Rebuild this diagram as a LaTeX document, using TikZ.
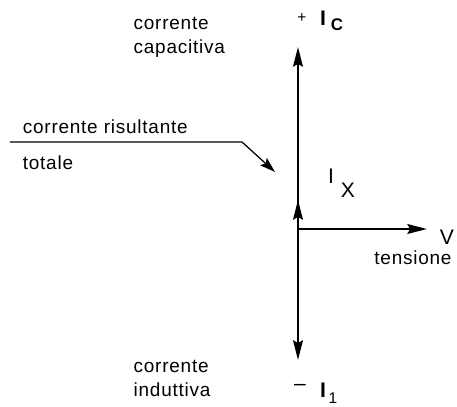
\documentclass[tikz,border=0pt]{standalone}
\usepackage{fontspec}
\setmainfont{Liberation Sans}[LetterSpace=4]
\usetikzlibrary{arrows.meta}
\tikzset{
  % vettori
  vecline/.style = {line width=1.4pt, -{Stealth[length=14pt,width=7pt,inset=2pt]}},
  pointer/.style = {line width=0.9pt, -{Stealth[length=11pt,width=7pt,inset=2pt]}},
  % etichette
  lab/.style     = {font=\fontsize{13.5}{17}\selectfont, inner sep=1pt, align=left},
  sym/.style     = {font=\fontsize{15}{17}\selectfont, inner sep=0pt},
  subsym/.style  = {font=\fontsize{11}{13}\selectfont, inner sep=0pt},
}
\begin{document}
\begin{tikzpicture}
  \useasboundingbox (-7.45,-4.425) rectangle (3.975,5.725);
  % Punti
  \coordinate (O) at (0,0);
  \coordinate (C) at (0,4.55);
  \coordinate (L) at (0,-3.275);
  \coordinate (X) at (0,0.725);
  \coordinate (V) at (3.225,0);
  \coordinate (P0) at (-7.2,2.175);
  \coordinate (P1) at (-1.4,2.175);
  \coordinate (P2) at (-0.575,1.425);
  % Vettori
  \draw[vecline] (O) -- (C);
  \draw[vecline] (O) -- (L);
  \draw[vecline] (O) -- (X);
  \draw[vecline] (O) -- (V);
  \draw[pointer] (P0) -- (P1) -- (P2);
  % Etichette
  \node[lab, anchor=west] (capac) at (-4.15,4.8) {corrente\\capacitiva};
  \node[lab, anchor=west] (indut) at (-4.15,-3.74) {corrente\\induttiva};
  \node[lab, anchor=west] (ris) at (-6.92,2.55) {corrente risultante};
  \node[lab, anchor=west] (tot) at (-6.92,1.65) {totale};
  \node[lab] (tens) at (2.875,-0.725) {tensione};
  \node[sym] (vlab) at (3.725,-0.2) {V};
  % I_C
  \node[subsym] (plus) at (0.1,5.275) {+};
  \node[sym, font=\fontsize{15}{17}\selectfont\bfseries] (icI) at (0.625,5.275) {I};
  \node[subsym, font=\fontsize{12}{13}\selectfont\bfseries] (icC) at (0.975,5.1) {C};
  % I_X
  \node[sym] (ixI) at (0.825,1.325) {I};
  \node[sym] (ixX) at (1.25,0.975) {X};
  % -I_1
  \node[sym] (minus) at (0.05,-3.95) {–};
  \node[sym, font=\fontsize{15}{17}\selectfont\bfseries] (ilI) at (0.625,-4.025) {I};
  \node[subsym] (il1) at (0.875,-4.225) {1};
\end{tikzpicture}
\end{document}
